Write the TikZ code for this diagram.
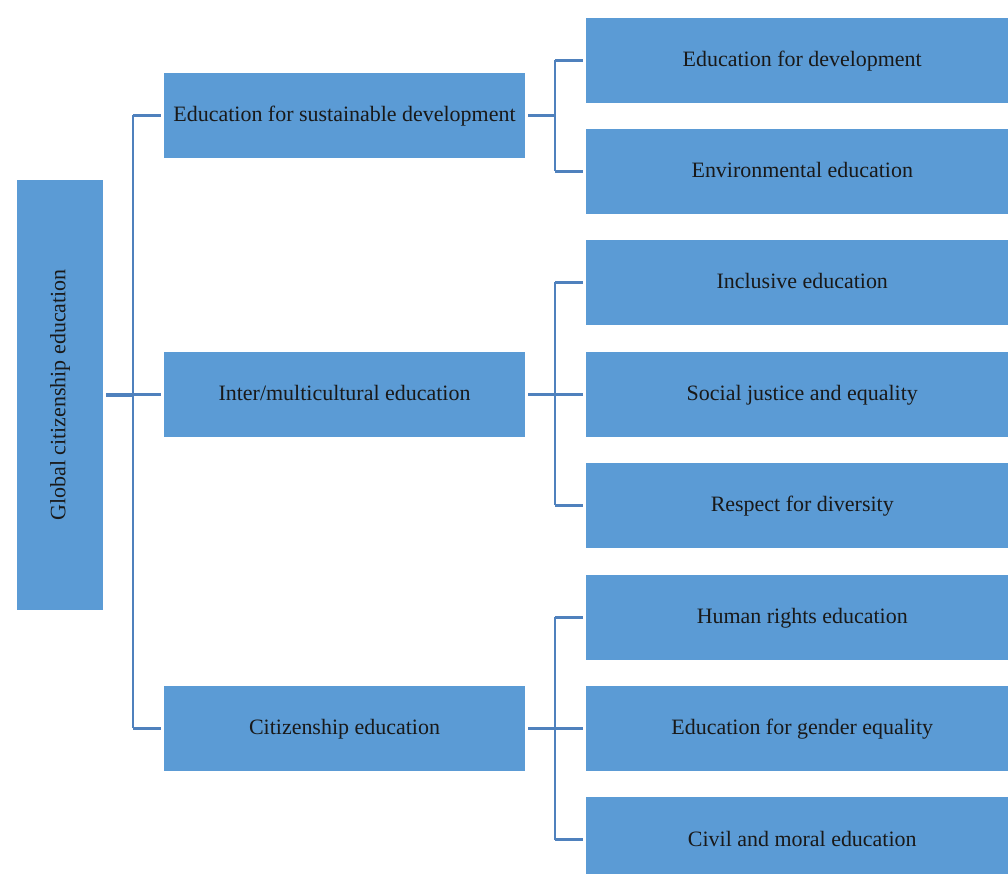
\documentclass[tikz,border=0pt]{standalone}
\usepackage{fontspec}
\setmainfont{Liberation Serif}
\definecolor{boxblue}{RGB}{91,155,213}
\definecolor{lineblue}{RGB}{79,129,189}
\tikzset{
  x=0.02cm, y=-0.02cm,
  box/.style={fill=boxblue, draw=none, inner sep=0pt, font=\fontsize{12.5}{14}\selectfont, text=black!90, text height=0.9em, text depth=0.16em},
  mid/.style={box, minimum width=7.22cm, minimum height=1.7cm},
  leaf/.style={box, minimum width=8.44cm, minimum height=1.7cm},
  conn/.style={draw=lineblue, line width=1.5pt},
  gap/.style={shorten >=0.06cm}
}
\begin{document}
\begin{tikzpicture}
\useasboundingbox (0,0) rectangle (1008,874);
\clip (0,0) rectangle (1008,874);
\node[fill=boxblue, inner sep=0pt, minimum width=1.72cm, minimum height=8.6cm] (root) at (60,395) {};
\node[rotate=90, font=\fontsize{12.5}{14}\selectfont, text=black!90] (roottext) at (60,395) {Global citizenship education};
\node[mid] (esd) at (344.5,115.5) {Education for sustainable development};
\node[mid] (inter) at (344.5,394.5) {Inter/multicultural education};
\node[mid] (cit) at (344.5,728.5) {Citizenship education};
\node[leaf] (l1) at (797,60.5) {\hspace*{6pt}Education for development};
\node[leaf] (l2) at (797,171.5) {\hspace*{6pt}Environmental education};
\node[leaf] (l3) at (797,282.5) {\hspace*{6pt}Inclusive education};
\node[leaf] (l4) at (797,394.5) {\hspace*{6pt}Social justice and equality};
\node[leaf] (l5) at (797,505.5) {\hspace*{6pt}Respect for diversity};
\node[leaf] (l6) at (797,617.5) {\hspace*{6pt}Human rights education};
\node[leaf] (l7) at (797,728.5) {\hspace*{6pt}Education for gender equality};
\node[leaf] (l8) at (797,839.5) {\hspace*{6pt}Civil and moral education};
\coordinate (ta) at (133,0);
\coordinate (tb) at (555,0);
% root to middle
\draw[conn, line width=1.8pt, shorten <=0.06cm] (root.east) -- (root.east -| ta);
\draw[conn] (esd.west -| ta) -- (cit.west -| ta);
\foreach \n in {esd,inter,cit} \draw[conn,gap] (\n.west -| ta) -- (\n.west);
% middle to leaves
\foreach \n in {esd,inter,cit} \draw[conn, shorten <=0.06cm] (\n.east) -- (\n.east -| tb);
\draw[conn] (l1.west -| tb) -- (l2.west -| tb);
\draw[conn] (l3.west -| tb) -- (l5.west -| tb);
\draw[conn] (l6.west -| tb) -- (l8.west -| tb);
\foreach \n in {l1,l2,l3,l4,l5,l6,l7,l8} \draw[conn,gap] (\n.west -| tb) -- (\n.west);
\end{tikzpicture}
\end{document}
